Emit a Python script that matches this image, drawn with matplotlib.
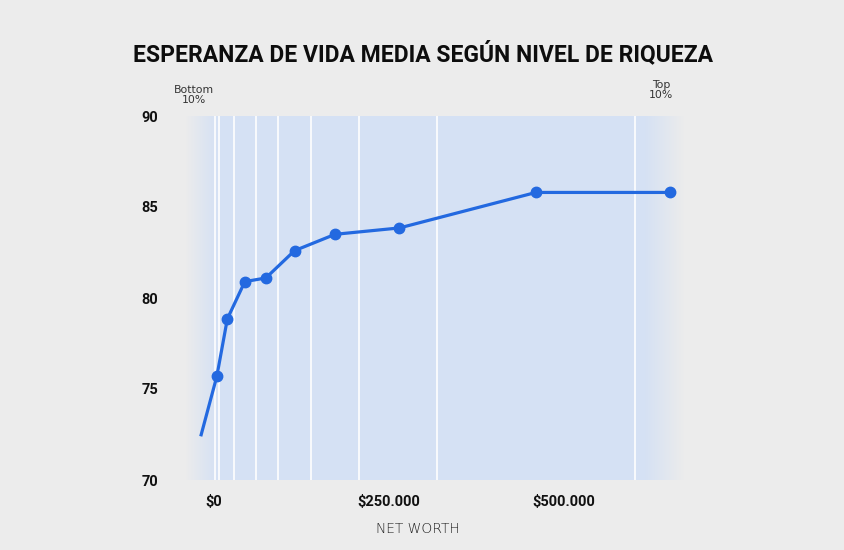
import numpy as np
import matplotlib
matplotlib.use("Agg")
import matplotlib.pyplot as plt

# net worth (USD) vs. life expectancy
net_worth = [-19000, 4000, 19000, 44000, 74000, 115000, 173000, 265000, 460000, 651000]
life_exp = [72.4, 75.7, 78.85, 80.9, 81.1, 82.6, 83.5, 83.85, 85.8, 85.8]

# white separators in the shaded band
band_edges = [2000, 7500, 28500, 59500, 91500, 138000, 207500, 318000, 601000]

x_ticks = [0, 250000, 500000]
x_tick_labels = ["$0", "$250.000", "$500.000"]
y_ticks = [70, 75, 80, 85, 90]

title = "ESPERANZA DE VIDA MEDIA SEGÚN NIVEL DE RIQUEZA"

BG = "#ececec"
BAND = "#d5e1f4"
BLUE = "#2369e0"

fig = plt.figure(figsize=(8.45, 5.5), dpi=100, facecolor=BG)
ax = fig.add_axes([185 / 845, 70 / 550, 500 / 845, 364 / 550])
ax.set_facecolor("none")

# soft-edged blue band behind the plot
xs = np.linspace(0, 1, 500)
alpha = np.interp(xs, [0, 0.062, 0.92, 1.0], [0, 1, 1, 0])
rgba = np.zeros((1, 500, 4))
rgba[..., :3] = matplotlib.colors.to_rgb(BAND)
rgba[..., 3] = alpha
ax.imshow(rgba, extent=[0, 1, 0, 1], transform=ax.transAxes, aspect="auto", zorder=0)

for x in band_edges:
    ax.axvline(x, color="white", lw=1.3, alpha=0.9, zorder=1)

ax.plot(net_worth, life_exp, color=BLUE, lw=2.3, zorder=3, solid_capstyle="butt")
ax.plot(net_worth[1:], life_exp[1:], "o", color=BLUE, ms=7.5, zorder=4)

ax.set_xlim(-41500, 673000)
ax.set_ylim(70, 90)
ax.set_xticks(x_ticks)
ax.set_xticklabels(x_tick_labels)
ax.set_yticks(y_ticks)
for s in ax.spines.values():
    s.set_visible(False)
ax.tick_params(length=0)
ax.tick_params(axis="y", pad=19.5)
ax.tick_params(axis="x", pad=11)
for lab in ax.get_xticklabels() + ax.get_yticklabels():
    lab.set_fontfamily("Roboto")
    lab.set_fontweight("bold")
    lab.set_fontsize(10.5)
    lab.set_color("#111111")

fig.text(418 / 845, 1 - 529 / 550, "NET WORTH", ha="center", va="center",
         fontsize=10, color="#222222", fontfamily="DejaVu Sans", fontweight="light")

ax.text(0.018, 1.03, "Bottom\n10%", transform=ax.transAxes, ha="center", va="bottom",
        fontsize=7.8, color="#333333", linespacing=0.95)
ax.text(0.952, 1.045, "Top\n10%", transform=ax.transAxes, ha="center", va="bottom",
        fontsize=7.8, color="#333333", linespacing=0.95)

fig.text(423 / 845, 1 - 54 / 550, title, ha="center", va="center",
         fontsize=16.5, fontweight="bold", fontfamily="Roboto", color="#0d0d0d")

fig.savefig("out.png", dpi=100, facecolor=BG)
